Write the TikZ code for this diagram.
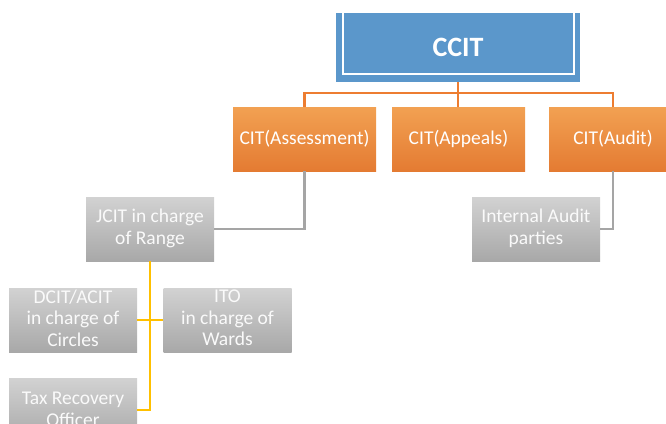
\documentclass[tikz,border=0pt]{standalone}
\usepackage{fontspec}
\setmainfont{Carlito}
\definecolor{ccitblue}{HTML}{5B97CB}
\definecolor{orgtop}{HTML}{F2A152}
\definecolor{orgbot}{HTML}{E47B32}
\definecolor{orgline}{HTML}{ED7D31}
\definecolor{graytop}{HTML}{D2D2D2}
\definecolor{graybot}{HTML}{A8A8A8}
\definecolor{grayline}{HTML}{A5A5A5}
\definecolor{goldline}{HTML}{FFC000}
\tikzset{
  headbox/.style={fill=ccitblue, minimum width=244pt, minimum height=69pt,
    inner sep=0pt, text=white, font=\fontsize{28}{32}\selectfont\bfseries},
  citbox/.style={top color=orgtop, bottom color=orgbot, minimum height=64pt,
    inner sep=0pt, text=white, font=\fontsize{19.5}{23}\selectfont},
  officebox/.style={top color=graytop, bottom color=graybot, minimum width=128pt,
    minimum height=64pt, inner sep=0pt},
  officetext/.style={inner sep=0pt, text=white!96!gray, align=center,
    font=\fontsize{19.5}{21.7}\selectfont},
  orgconn/.style={draw=orgline, line width=2.2pt},
  grayconn/.style={draw=grayline, line width=2.4pt},
  goldconn/.style={draw=goldline, line width=2.2pt},
}
\begin{document}
\begin{tikzpicture}[x=1pt, y=-1pt]
\useasboundingbox (0,0) rectangle (666,423);
\clip (0,0) rectangle (666,423);

% top of the hierarchy
\node[headbox] (ccit) at (458,47.5) {CCIT};
\draw[white, line width=1.8pt]
  ([xshift=7.5pt]ccit.north west) |- ([xshift=-6.5pt,yshift=8.5pt]ccit.south east)
  -- ([xshift=-6.5pt]ccit.north east);

% commissioners
\node[citbox, minimum width=143pt] (assess) at (304.5,139) {CIT(Assessment)};
\node[citbox, minimum width=133pt] (appeals) at (458.5,139) {CIT(Appeals)};
\node[citbox, minimum width=128pt] (audit) at (613,139) {CIT(Audit)};

% field offices: boxes, then their captions
\node[officebox] (jcit) at (150,229) {};
\node[officebox] (iap) at (536,229) {};
\node[officebox] (dcit) at (73,320) {};
\node[officebox] (ito) at (227.5,320) {};
\node[officebox] (tro) at (73,410) {};

\node[officetext] (jcittext) at (150,228.5) {JCIT in charge\\of Range};
\node[officetext] (iaptext) at (536,228.5) {Internal Audit\\parties};
\node[officetext] (dcittext) at (73,318) {DCIT/ACIT\\in charge of\\Circles};
\node[officetext] (itotext) at (227.5,318) {ITO\\in charge of\\Wards};
\node[officetext] (trotext) at (73,409) {Tax Recovery\\Officer};

% connectors
\draw[orgconn] (ccit.south) -- ++(0,11) coordinate (hub) -| (assess.north);
\draw[orgconn] (hub) -| (audit.north);
\draw[orgconn] (ccit.south) -- (ccit.south |- appeals.north);
\draw[grayconn] (assess.south) |- (jcit.east);
\draw[grayconn] (audit.south) |- (iap.east);
\draw[goldconn] (jcit.south) |- (tro.east);
\draw[goldconn] (dcit.east) -- (ito.west);
\end{tikzpicture}
\end{document}
